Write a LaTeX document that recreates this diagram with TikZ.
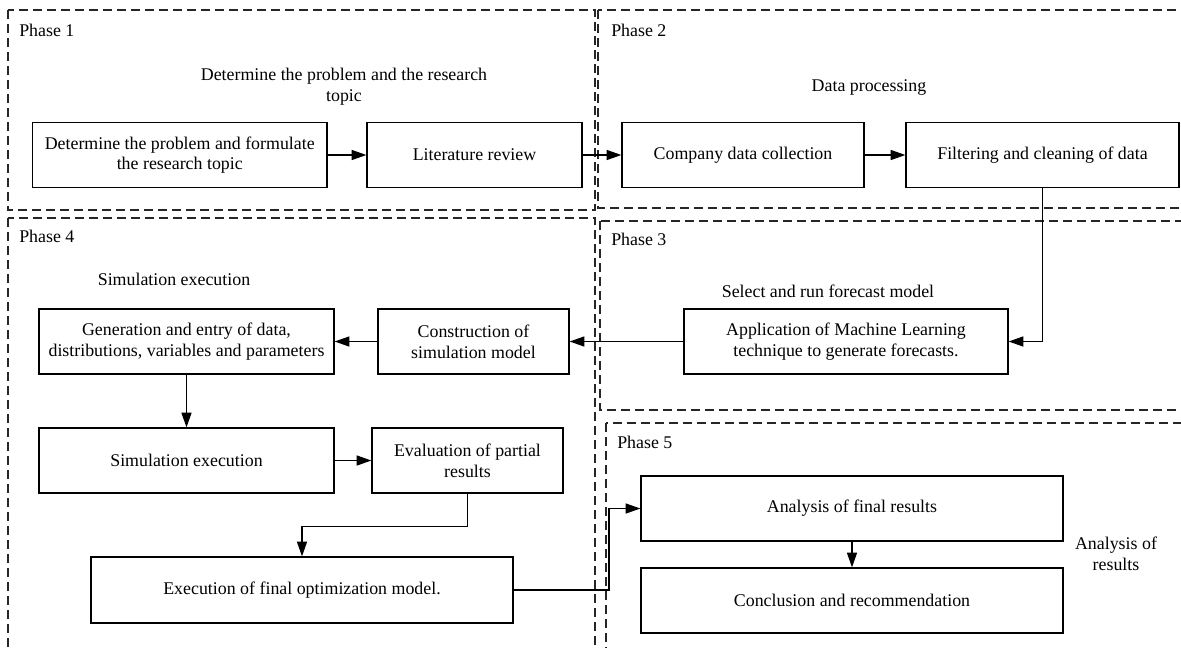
\documentclass[tikz,border=0pt]{standalone}
\usepackage{fontspec}
\setmainfont{Liberation Serif}
\usetikzlibrary{arrows.meta,calc}
\begin{document}
\begin{tikzpicture}[x=0.75pt,y=-0.75pt,
  txt/.style={font=\fontsize{13.4pt}{15.5pt}\selectfont, align=center, inner sep=0pt},
  box/.style={txt, draw, line width=0.95pt, minimum height=48.75pt},
  frame/.style={draw=black!85, line width=0.95pt, dash pattern=on 7pt off 3.5pt},
  arr/.style={draw, line width=0.95pt, -{Triangle[length=11pt,width=7.5pt]}},
  lbl/.style={txt, anchor=west}]
\clip (0,0) rectangle (1181,647);
\fill[white] (0,0) rectangle (1181,647);
% phase frames
\draw[frame] (8,10) rectangle (595,210);
\draw[frame] (598,10) rectangle (1200,208);
\draw[frame] (8,218) rectangle (595,670);
\draw[frame] (600,221) rectangle (1200,410);
\draw[frame] (606,423) rectangle (1200,670);
% phase labels
\node[lbl] (p1) at (19,30) {Phase 1};
\node[lbl] (p2) at (611,30) {Phase 2};
\node[lbl] (p4) at (19,236) {Phase 4};
\node[lbl] (p3) at (611,239) {Phase 3};
\node[lbl] (p5) at (617,442) {Phase 5};
% headings
\node[txt] (h1) at (344,87) {Determine the problem and the research\\topic};
\node[txt] (h2) at (869,88) {Data processing};
\node[txt] (h4) at (174,279) {Simulation execution};
\node[txt] (h3) at (828,291) {Select and run forecast model};
\node[txt] (h5) at (1116,554) {Analysis of\\results};
% boxes
\node[box, minimum width=220.9pt] (A) at (179.75,155) {Determine the problem and formulate\\the research topic};
\node[box, minimum width=161.25pt] (B) at (474.5,155) {Literature review};
\node[box, minimum width=181.5pt] (C) at (743,155) {Company data collection};
\node[box, minimum width=204.75pt] (D) at (1042.5,155) {Filtering and cleaning of data};
\node[box, minimum width=243pt] (E) at (846,341.5) {Application of Machine Learning\\technique to generate forecasts.};
\node[box, minimum width=143.25pt] (Cons) at (473.5,341.5) {Construction of\\simulation model};
\node[box, minimum width=221.25pt] (F) at (186.5,341.5) {Generation and entry of data,\\distributions, variables and parameters};
\node[box, minimum width=221.25pt] (G) at (186.5,460.5) {Simulation execution};
\node[box, minimum width=143.25pt] (H) at (467.5,460.5) {Evaluation of partial\\results};
\node[box, minimum width=316.5pt, minimum height=49.5pt] (I) at (302,590) {Execution of final optimization model.};
\node[box, minimum width=316.5pt] (J) at (852,508.5) {Analysis of final results};
\node[box, minimum width=316.5pt] (K) at (852,600.5) {Conclusion and recommendation};
% connectors
\coordinate (bend) at (609,0);
\draw[arr] (A.east) -- (B.west);
\draw[arr] (B.east) -- (C.west);
\draw[arr] (C.east) -- (D.west);
\draw[arr] (D.south) |- (E.east);
\draw[arr] (E.west) -- (Cons.east);
\draw[arr] (Cons.west) -- (F.east);
\draw[arr] (F.south) -- (G.north);
\draw[arr] (G.east) -- (H.west);
\draw[arr] (H.south) -- ($(H.south)+(0,33)$) -| (I.north);
\draw[arr] (I.east) -- (I.east -| bend) |- (J.west);
\draw[arr] (J.south) -- (K.north);
\end{tikzpicture}
\end{document}
